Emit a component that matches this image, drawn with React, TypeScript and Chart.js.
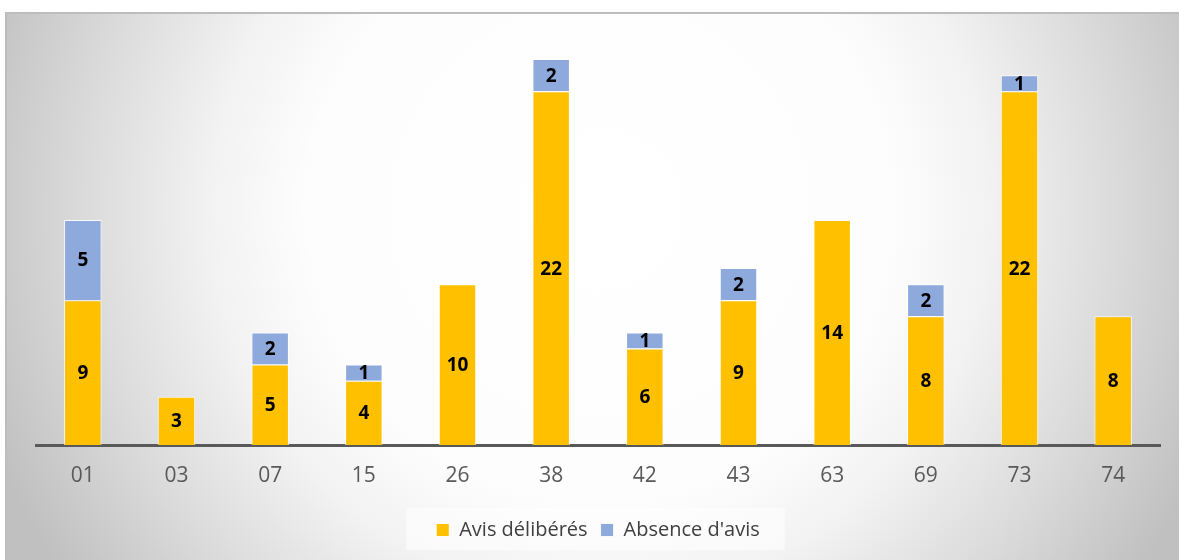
import React, { useEffect, useRef } from "react";
import { Chart, registerables } from "chart.js";

Chart.register(...registerables);

const categories = ["01", "03", "07", "15", "26", "38", "42", "43", "63", "69", "73", "74"];
const avisDeliberes = [9, 3, 5, 4, 10, 22, 6, 9, 14, 8, 22, 8];
const absenceAvis = [5, 0, 2, 1, 0, 2, 1, 2, 0, 2, 1, 0];
const seriesNames = ["Avis délibérés", "Absence d'avis"];
const seriesColors = ["#FFC000", "#8EA9DB"];

const FONT = "'Open Sans', 'Noto Sans', 'DejaVu Sans', sans-serif";

const backgroundPlugin = {
  id: "bgPanel",
  beforeDraw(chart: any) {
    const ctx = chart.ctx;
    const W = chart.width;
    const H = chart.height;
    ctx.save();
    ctx.fillStyle = "#ffffff";
    ctx.fillRect(0, 0, W, H);
    const x0 = 6, y0 = 13;
    const g = ctx.createRadialGradient(600, 210, 0, 600, 210, 650);
    g.addColorStop(0, "#ffffff");
    g.addColorStop(0.45, "#fdfdfd");
    g.addColorStop(0.6, "#f2f2f2");
    g.addColorStop(0.8, "#dadada");
    g.addColorStop(1, "#c0c0c0");
    ctx.fillStyle = g;
    ctx.fillRect(x0, y0, W - x0, H - y0);
    ctx.strokeStyle = "#bdbdbd";
    ctx.lineWidth = 2;
    ctx.beginPath();
    ctx.moveTo(x0, H);
    ctx.lineTo(x0, y0);
    ctx.lineTo(W, y0);
    ctx.stroke();
    // legend backdrop
    const lg = chart.legend;
    if (lg && lg.legendHitBoxes && lg.legendHitBoxes.length) {
      const hbs = lg.legendHitBoxes;
      let l = Infinity, r = -Infinity, t = Infinity, b = -Infinity;
      for (const hb of hbs) {
        l = Math.min(l, hb.left);
        r = Math.max(r, hb.left + hb.width);
        t = Math.min(t, hb.top);
        b = Math.max(b, hb.top + hb.height);
      }
      const cy = (t + b) / 2;
      ctx.fillStyle = "rgba(255,255,255,0.55)";
      ctx.fillRect(l - 30, cy - 22, r - l + 55, 42);
    }
    ctx.restore();
  },
};

const valueLabelPlugin = {
  id: "valueLabels",
  afterDatasetsDraw(chart: any) {
    const ctx = chart.ctx;
    ctx.save();
    ctx.font = `bold 19px ${FONT}`;
    ctx.fillStyle = "#000000";
    ctx.textAlign = "center";
    ctx.textBaseline = "middle";
    chart.data.datasets.forEach((ds: any, di: number) => {
      const meta = chart.getDatasetMeta(di);
      meta.data.forEach((el: any, i: number) => {
        const v = ds.data[i];
        if (!v) return;
        const y = (el.y + el.base) / 2;
        ctx.fillText(String(v), el.x, y + 1);
      });
    });
    ctx.restore();
  },
};

export default function App() {
  const canvasRef = useRef<HTMLCanvasElement>(null);

  useEffect(() => {
    if (!canvasRef.current) return;
    const chart = new Chart(canvasRef.current, {
      type: "bar",
      data: {
        labels: categories,
        datasets: [
          {
            label: seriesNames[0],
            data: avisDeliberes,
            backgroundColor: seriesColors[0],
            borderColor: "rgba(255,255,255,0.85)",
            borderWidth: 1,
            barPercentage: 0.5,
            categoryPercentage: 0.8,
          },
          {
            label: seriesNames[1],
            data: absenceAvis,
            backgroundColor: seriesColors[1],
            borderColor: "rgba(255,255,255,0.85)",
            borderWidth: 1,
            barPercentage: 0.5,
            categoryPercentage: 0.8,
          },
        ],
      },
      options: {
        responsive: false,
        animation: false,
        layout: { padding: { left: 36, right: 19, top: 43, bottom: 10 } },
        scales: {
          x: {
            stacked: true,
            grid: { display: false, drawTicks: false },
            border: { display: true, color: "#595959", width: 3 },
            ticks: {
              padding: 18.4,
              color: "#595959",
              font: { family: FONT, size: 21 },
            },
          },
          y: {
            stacked: true,
            display: false,
            min: 0,
            max: 25,
          },
        },
        plugins: {
          legend: {
            display: true,
            position: "bottom",
            labels: {
              boxWidth: 13,
              boxHeight: 13,
              padding: 13,
              color: "#404040",
              font: { family: FONT, size: 20 },
            },
          },
          tooltip: { enabled: false },
        },
      },
      plugins: [backgroundPlugin, valueLabelPlugin],
    });
    return () => chart.destroy();
  }, []);

  return (
    <div style={{ position: "absolute", left: 0, top: 0, width: 1179, height: 560 }}>
      <canvas ref={canvasRef} width={1179} height={560} style={{ display: "block" }} />
    </div>
  );
}
